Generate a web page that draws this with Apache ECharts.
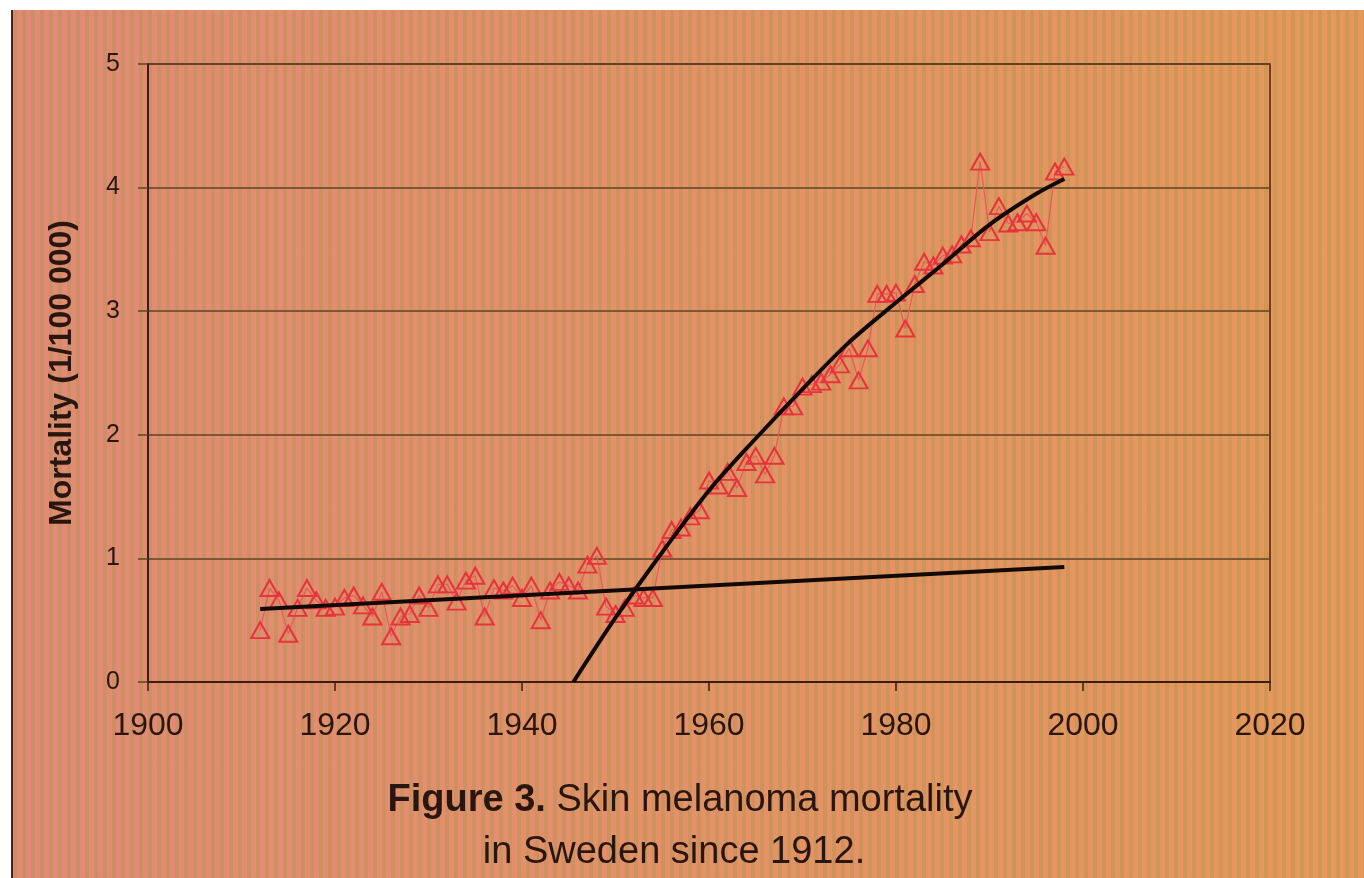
<!DOCTYPE html>
<html>
<head>
<meta charset="utf-8">
<script src="https://cdn.jsdelivr.net/npm/echarts@6/dist/echarts.min.js"></script>
<style>
  html, body { margin: 0; padding: 0; width: 1364px; height: 878px; overflow: hidden; background: #ffffff; }
  #screen {
    position: absolute; left: 13px; top: 10px; right: 0; bottom: 0;
    background:
      repeating-linear-gradient(90deg, rgba(150,150,60,0.28) 0px, rgba(150,150,60,0.28) 4px, rgba(0,0,0,0) 4px, rgba(0,0,0,0) 9px),
      linear-gradient(90deg, #e28a76 0%, #e4906a 45%, #e6985c 100%);
  }
  #edge { position: absolute; left: 11px; top: 10px; width: 2px; bottom: 0; background: #5a1e1a; }
  #chart { position: absolute; left: 0; top: 0; width: 1364px; height: 878px; }
</style>
</head>
<body>
<div id="screen"></div>
<div id="edge"></div>
<div id="chart"></div>
<script>
// Annual skin melanoma mortality in Sweden (per 100 000)
const years = [1912,1913,1914,1915,1916,1917,1918,1919,1920,1921,1922,1923,1924,1925,1926,1927,1928,1929,1930,
  1931,1932,1933,1934,1935,1936,1937,1938,1939,1940,1941,1942,1943,1944,1945,1946,1947,1948,1949,1950,
  1951,1952,1953,1954,1955,1956,1957,1958,1959,1960,1961,1962,1963,1964,1965,1966,1967,1968,1969,1970,
  1971,1972,1973,1974,1975,1976,1977,1978,1979,1980,1981,1982,1983,1984,1985,1986,1987,1988,1989,1990,
  1991,1992,1993,1994,1995,1996,1997,1998];
const mortality = [0.42,0.76,0.66,0.39,0.60,0.76,0.66,0.60,0.61,0.68,0.70,0.62,0.53,0.73,0.37,0.53,0.55,0.70,0.60,
  0.79,0.79,0.65,0.82,0.86,0.53,0.76,0.74,0.78,0.68,0.78,0.50,0.74,0.81,0.78,0.74,0.95,1.02,0.61,0.55,
  0.60,0.70,0.68,0.68,1.08,1.23,1.25,1.34,1.39,1.63,1.59,1.70,1.57,1.78,1.83,1.68,1.83,2.23,2.23,2.39,
  2.41,2.43,2.49,2.57,2.70,2.44,2.70,3.14,3.14,3.15,2.86,3.22,3.40,3.37,3.45,3.46,3.54,3.59,4.21,3.64,
  3.85,3.71,3.72,3.79,3.72,3.53,4.13,4.17];

// Slow early trend (straight line)
const earlyTrendYears = [1912, 1998];
const earlyTrend = [0.59, 0.93];

// Steep post-war trend (curved fit)
const lateTrendYears = [1945.5,1950,1955,1960,1965,1970,1975,1980,1985,1990,1995,1998];
const lateTrend = [0.0,0.52,1.05,1.55,1.97,2.37,2.75,3.07,3.38,3.70,3.95,4.07];

const yTicks = [0,1,2,3,4,5];
const xTicks = [1900,1920,1940,1960,1980,2000,2020];

const captionLines = ['Figure 3.', ' Skin melanoma mortality', 'in Sweden since 1912.'];

const pair = (xs, ys) => xs.map((x, i) => [x, ys[i]]);

const chart = echarts.init(document.getElementById('chart'));
const ink = '#2a1610';
const gridInk = '#5e4524';
const font = 'Liberation Sans, Arial, sans-serif';

chart.setOption({
  backgroundColor: 'transparent',
  animation: false,
  grid: { left: 148, top: 64, width: 1122, height: 618, show: true, borderColor: '#4a2018', borderWidth: 1.5, backgroundColor: 'transparent' },
  xAxis: {
    type: 'value', min: xTicks[0], max: xTicks[xTicks.length - 1], interval: 20,
    axisLine: { show: true, lineStyle: { color: '#3a1e14', width: 2 } },
    axisTick: { show: true, inside: false, length: 9, lineStyle: { color: '#3a1e14', width: 1.5 } },
    splitLine: { show: false },
    axisLabel: { color: ink, fontFamily: font, fontSize: 32, margin: 28, formatter: v => String(v) }
  },
  yAxis: {
    type: 'value', min: yTicks[0], max: yTicks[yTicks.length - 1], interval: 1,
    name: 'Mortality (1/100 000)', nameLocation: 'middle', nameGap: 70, nameRotate: 90,
    nameTextStyle: { color: ink, fontFamily: font, fontSize: 32, fontWeight: 'bold' },
    axisLine: { show: true, lineStyle: { color: '#3a1e14', width: 2 } },
    axisTick: { show: true, inside: false, length: 10, lineStyle: { color: gridInk, width: 1.5 } },
    splitLine: { show: true, lineStyle: { color: gridInk, width: 1.5 } },
    axisLabel: { color: ink, fontFamily: font, fontSize: 25, margin: 28 }
  },
  series: [
    {
      type: 'line', name: 'Mortality', data: pair(years, mortality),
      symbol: 'triangle', symbolSize: [18, 16], showAllSymbol: true,
      lineStyle: { color: '#e85a5a', width: 1.2 },
      itemStyle: { color: 'rgba(0,0,0,0)', borderColor: '#e8323c', borderWidth: 2 },
      z: 2
    },
    {
      type: 'line', name: 'Early trend', data: pair(earlyTrendYears, earlyTrend),
      symbol: 'none', lineStyle: { color: '#120a08', width: 4 }, z: 3
    },
    {
      type: 'line', name: 'Late trend', data: pair(lateTrendYears, lateTrend),
      symbol: 'none', smooth: 0.3, lineStyle: { color: '#120a08', width: 4 }, z: 3
    }
  ],
  graphic: [
    {
      type: 'text', x: 680, y: 801,
      style: {
        text: '{b|' + captionLines[0] + '}' + captionLines[1],
        align: 'center', verticalAlign: 'middle',
        fill: ink, fontFamily: font, fontSize: 38,
        rich: { b: { fontWeight: 'bold', fontSize: 38, fontFamily: font, fill: ink } }
      }
    },
    {
      type: 'text', x: 674, y: 853,
      style: {
        text: captionLines[2],
        align: 'center', verticalAlign: 'middle',
        fill: ink, fontFamily: font, fontSize: 38
      }
    }
  ]
});
</script>
</body>
</html>
